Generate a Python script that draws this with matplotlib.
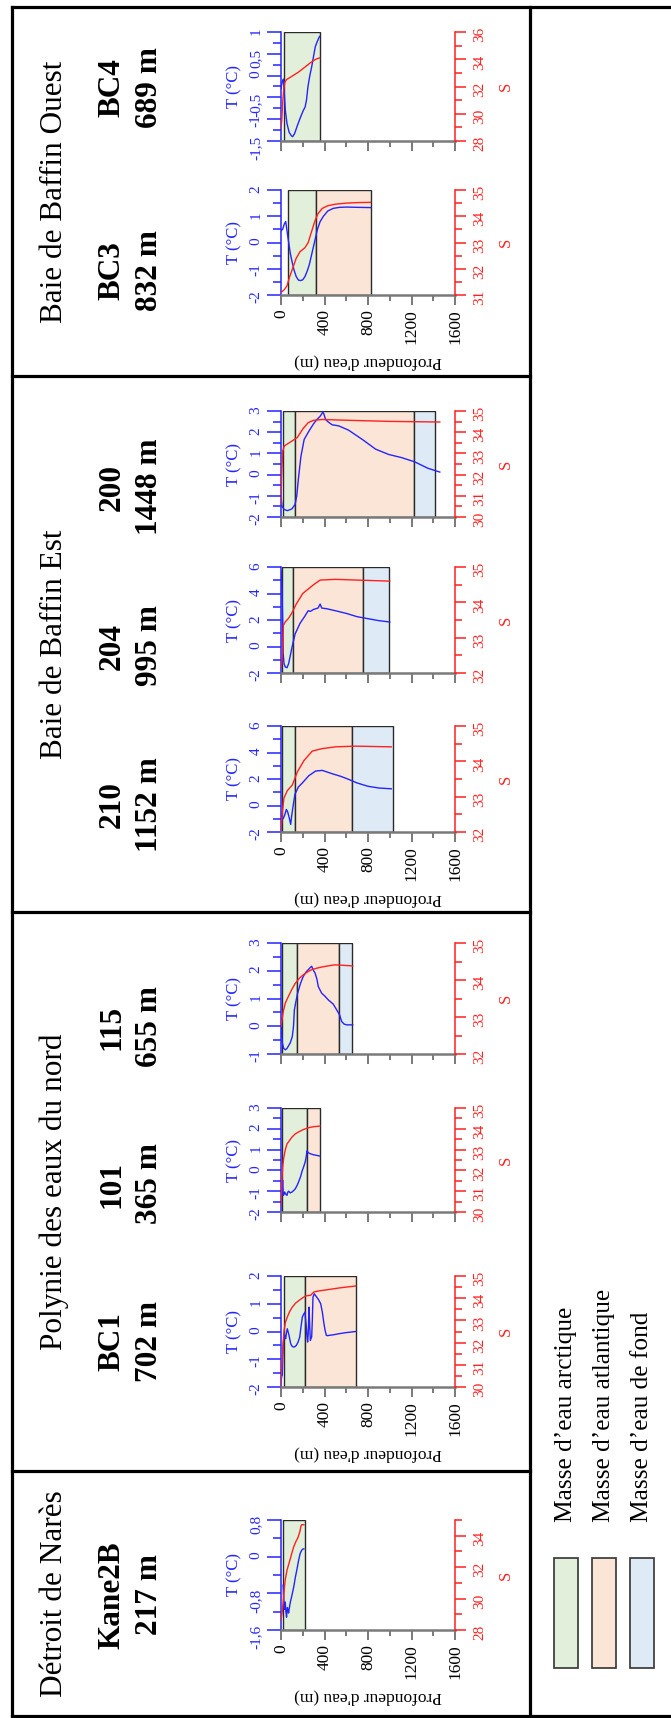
import matplotlib
matplotlib.use("Agg")
import matplotlib.pyplot as plt
from matplotlib.ticker import MultipleLocator, FuncFormatter
from matplotlib.patches import Rectangle

plt.rcParams['font.family'] = ['Liberation Serif', 'DejaVu Serif']
plt.rcParams['axes.unicode_minus'] = False

# ---------------- data ----------------
regions = ['Baie de Baffin Ouest', 'Baie de Baffin Est', 'Polynie des eaux du nord', 'Détroit de Narès']
stations = ['BC4', 'BC3', '200', '204', '210', '115', '101', 'BC1', 'Kane2B']
station_depths = ['689 m', '832 m', '1448 m', '995 m', '1152 m', '655 m', '365 m', '702 m', '217 m']

# temperature / salinity axis ranges and major tick steps
t_lims = [(-1.5, 1), (-2, 2), (-2, 3), (-2, 6), (-2, 6), (-1, 3), (-2, 3), (-2, 2), (-1.6, 0.8)]
t_steps = [0.5, 1, 1, 2, 2, 1, 1, 1, 0.8]
s_lims = [(28, 36), (31, 35), (30, 35), (32, 35), (32, 35), (32, 35), (30, 35), (30, 35), (28, 35)]
s_steps = [2, 1, 1, 1, 1, 1, 1, 1, 2]

# water mass limits (m): arctique, atlantique, de fond (in that order)
mass_bounds = [
    [30, 355],
    [61, 325, 825],
    [15, 130, 1225, 1420],
    [5, 113, 751, 996],
    [8, 129, 650, 1030],
    [5, 144, 533, 650],
    [5, 236, 359],
    [25, 221, 690],
    [20, 217],
]
mass_names = ['Masse d\u2019eau arctique', 'Masse d\u2019eau atlantique', 'Masse d\u2019eau de fond']

# profiles (depth m, T degC) and (depth m, S)
t_depth_bc4 = [0, 10, 21, 30, 40, 55, 75, 95, 107, 125, 150, 180, 205, 222, 235, 248, 265, 282, 300, 315, 330, 345, 355]
t_bc4 = [-0.3, -0.15, -0.08, -0.4, -0.8, -1.1, -1.3, -1.38, -1.4, -1.33, -1.15, -0.95, -0.8, -0.72, -0.55, -0.25, 0.0, 0.2, 0.45, 0.66, 0.76, 0.85, 0.9]
s_depth_bc4 = [0, 8, 15, 25, 35, 50, 80, 120, 160, 200, 240, 280, 320, 355]
s_bc4 = [28.9, 29.6, 30.8, 31.8, 32.3, 32.5, 32.65, 32.85, 33.05, 33.3, 33.55, 33.8, 34.0, 34.1]

t_depth_bc3 = [0, 15, 30, 43, 55, 67, 85, 100, 120, 140, 160, 180, 200, 220, 240, 260, 285, 310, 335, 360, 390, 430, 480, 540, 600, 700, 825]
t_bc3 = [0.45, 0.5, 0.7, 0.8, 0.45, 0.1, -0.4, -0.7, -1.05, -1.3, -1.43, -1.45, -1.42, -1.3, -1.1, -0.85, -0.4, 0.05, 0.5, 0.8, 1.0, 1.2, 1.3, 1.34, 1.35, 1.34, 1.33]
s_depth_bc3 = [0, 30, 55, 80, 110, 140, 175, 220, 250, 280, 310, 340, 380, 430, 500, 600, 700, 825]
s_bc3 = [31.1, 31.2, 31.35, 31.7, 32.05, 32.4, 32.65, 32.8, 33.0, 33.4, 33.8, 34.1, 34.3, 34.4, 34.46, 34.5, 34.52, 34.53]

t_depth_200 = [0, 10, 30, 60, 100, 130, 145, 160, 183, 213, 259, 300, 330, 360, 385, 395, 410, 430, 470, 530, 620, 750, 870, 990, 1110, 1230, 1350, 1460]
t_200 = [-1.0, -1.5, -1.65, -1.7, -1.62, -1.4, -1.0, -0.2, 0.85, 1.66, 2.07, 2.4, 2.6, 2.75, 2.95, 2.85, 2.6, 2.5, 2.35, 2.3, 2.1, 1.65, 1.2, 0.95, 0.8, 0.6, 0.3, 0.12]
s_depth_200 = [0, 5, 15, 30, 60, 100, 150, 200, 250, 300, 380, 500, 700, 1000, 1460]
s_200 = [30.6, 31.8, 33.1, 33.35, 33.45, 33.58, 33.75, 34.15, 34.45, 34.56, 34.6, 34.58, 34.55, 34.51, 34.48]

t_depth_204 = [0, 5, 10, 15, 20, 28, 40, 55, 70, 85, 100, 130, 175, 220, 250, 270, 300, 340, 360, 375, 420, 500, 600, 700, 800, 900, 1000]
t_204 = [5.7, 5.0, 3.9, 2.0, -0.5, -1.3, -1.55, -1.6, -1.3, -0.7, -0.1, 0.95, 1.75, 2.3, 2.7, 2.65, 2.8, 2.9, 3.2, 2.9, 2.85, 2.7, 2.5, 2.25, 2.1, 1.95, 1.85]
s_depth_204 = [0, 8, 14, 22, 40, 70, 100, 140, 200, 260, 300, 360, 500, 700, 1000]
s_204 = [32.15, 32.3, 32.6, 33.35, 33.45, 33.55, 33.7, 33.95, 34.25, 34.4, 34.5, 34.63, 34.65, 34.63, 34.6]

t_depth_210 = [0, 6, 20, 35, 49, 60, 75, 89, 98, 110, 128, 160, 195, 256, 318, 380, 470, 550, 623, 700, 800, 900, 1014]
t_210 = [-0.6, -0.9, -1.0, -0.7, -0.3, -0.45, -0.9, -1.43, -0.8, -0.1, 0.84, 1.4, 1.69, 2.25, 2.6, 2.65, 2.4, 2.2, 1.97, 1.7, 1.45, 1.32, 1.26]
s_depth_210 = [0, 6, 12, 27, 58, 104, 150, 211, 287, 379, 500, 684, 1014]
s_210 = [32.05, 32.3, 32.55, 32.96, 33.17, 33.33, 33.7, 34.02, 34.29, 34.36, 34.41, 34.43, 34.41]

t_depth_115 = [0, 5, 12, 25, 40, 55, 70, 85, 104, 115, 123, 140, 153, 180, 205, 230, 251, 270, 282, 300, 313, 330, 343, 374, 400, 435, 480, 512, 540, 558, 580, 604, 659]
t_115 = [0.3, -0.2, -0.6, -0.8, -0.85, -0.8, -0.7, -0.6, -0.37, 0.0, 0.59, 0.95, 1.19, 1.55, 1.8, 1.95, 2.04, 2.12, 2.16, 2.0, 1.92, 1.7, 1.43, 1.19, 1.1, 0.95, 0.8, 0.59, 0.4, 0.17, 0.08, 0.05, 0.05]
s_depth_115 = [0, 10, 21, 40, 67, 100, 129, 170, 205, 250, 282, 330, 374, 450, 497, 560, 659]
s_115 = [32.74, 32.95, 33.15, 33.38, 33.55, 33.75, 33.9, 34.05, 34.14, 34.23, 34.28, 34.32, 34.35, 34.39, 34.41, 34.4, 34.38]

t_depth_101 = [0, 10, 15, 21, 28, 34, 45, 55, 62, 70, 85, 101, 120, 132, 150, 162, 180, 193, 210, 224, 233, 239, 245, 250, 270, 300, 330, 356]
t_101 = [-1.3, -0.9, -0.47, -1.2, -1.15, -1.04, -1.15, -1.2, -1.05, -1.0, -1.08, -1.04, -0.95, -0.88, -0.7, -0.55, -0.3, -0.05, 0.2, 0.44, 0.7, 0.94, 0.9, 0.85, 0.8, 0.75, 0.72, 0.69]
s_depth_101 = [0, 5, 9, 15, 25, 40, 55, 80, 101, 130, 162, 200, 224, 260, 300, 356]
s_101 = [30.3, 30.9, 31.62, 32.15, 32.6, 33.0, 33.27, 33.45, 33.6, 33.75, 33.85, 33.95, 34.0, 34.06, 34.1, 34.13]

t_depth_bc1 = [0, 8, 12, 18, 21, 26, 31, 37, 43, 50, 58, 66, 74, 82, 89, 100, 113, 127, 141, 157, 172, 185, 196, 208, 221, 227, 233, 239, 245, 250, 258, 264, 270, 276, 282, 288, 294, 300, 306, 317, 328, 345, 365, 380, 395, 405, 417, 430, 441, 480, 533, 600, 686]
t_bc1 = [-1.8, -1.6, -1.58, -0.8, -0.44, -0.2, -0.08, -0.2, -0.26, -0.05, 0.1, -0.02, -0.14, -0.3, -0.44, -0.52, -0.56, -0.55, -0.5, -0.38, -0.2, 0.2, 0.52, 0.62, 0.7, 0.4, 0.16, -0.2, -0.38, -0.1, 0.88, 0.2, -0.32, -0.25, -0.2, 0.4, 1.24, 1.3, 1.36, 1.3, 1.24, 1.15, 1.0, 0.7, 0.28, 0.05, -0.14, -0.15, -0.14, -0.12, -0.08, -0.04, 0.0]
s_depth_bc1 = [0, 3, 8, 12, 20, 28, 40, 58, 80, 104, 135, 166, 200, 227, 250, 273, 290, 303, 340, 380, 450, 533, 600, 686]
s_bc1 = [30.0, 30.6, 31.0, 31.35, 32.0, 32.55, 32.9, 33.15, 33.4, 33.6, 33.78, 33.9, 34.02, 34.1, 34.12, 34.13, 34.22, 34.28, 34.32, 34.35, 34.4, 34.46, 34.5, 34.55]

t_depth_kane = [20, 25, 31, 35, 39, 45, 51, 55, 59, 65, 70, 78, 86, 100, 117, 132, 148, 162, 176, 190, 203, 210]
t_kane = [-0.62, -0.9, -1.15, -1.05, -0.99, -1.2, -1.32, -1.2, -1.11, -1.18, -1.23, -1.1, -0.99, -0.85, -0.66, -0.45, -0.26, -0.08, 0.07, 0.14, 0.17, 0.17]
s_depth_kane = [0, 10, 20, 30, 39, 55, 78, 100, 117, 135, 156, 175, 183, 190, 210]
s_kane = [28.6, 29.1, 29.76, 30.6, 31.2, 31.8, 32.35, 32.9, 33.3, 33.6, 33.88, 34.3, 34.6, 34.7, 34.7]

t_profiles = [(t_depth_bc4, t_bc4), (t_depth_bc3, t_bc3), (t_depth_200, t_200), (t_depth_204, t_204),
              (t_depth_210, t_210), (t_depth_115, t_115), (t_depth_101, t_101), (t_depth_bc1, t_bc1),
              (t_depth_kane, t_kane)]
s_profiles = [(s_depth_bc4, s_bc4), (s_depth_bc3, s_bc3), (s_depth_200, s_200), (s_depth_204, s_204),
              (s_depth_210, s_210), (s_depth_115, s_115), (s_depth_101, s_101), (s_depth_bc1, s_bc1),
              (s_depth_kane, s_kane)]

# ---------------- layout (pixels in the 671 x 1718 image) ----------------
W, H = 671, 1718
AX_X0, AX_X1 = 281, 455
ax_rows = [(32, 141), (190, 295), (411, 517), (567, 673), (726, 832),
           (943, 1054), (1108, 1212), (1276, 1387), (1520, 1630)]
label_rows = [88, 271, 487, 646, 805, 1027, 1184, 1342, 1595]
show_depth_labels = [False, True, False, False, True, False, False, True, True]
region_rows = [(7, 376), (376, 912), (912, 1471), (1471, 1716)]

BLUE = '#2424ff'
RED = '#ff2020'
GREY = '#7a7a7a'
mass_colors = ['#e2efda', '#fbe5d6', '#deebf7']


def t_fmt(v, pos):
    if abs(v) < 1e-9:
        v = 0.0
    return ('%g' % round(v, 3)).replace('.', ',')


fig = plt.figure(figsize=(W / 100, H / 100), dpi=100)

bg = fig.add_axes([0, 0, 1, 1], zorder=-1)
bg.set_xlim(0, W)
bg.set_ylim(H, 0)
bg.axis('off')

# frame
lw_frame = 2.3
bg.plot([12, W], [7, 7], color='k', lw=lw_frame, solid_capstyle='projecting')
bg.plot([12, W], [1716, 1716], color='k', lw=lw_frame, solid_capstyle='projecting')
bg.plot([12, 12], [7, 1716], color='k', lw=lw_frame, solid_capstyle='projecting')
bg.plot([530, 530], [7, 1716], color='k', lw=lw_frame, solid_capstyle='projecting')
for top, bottom in region_rows[:-1]:
    bg.plot([12, 530], [bottom, bottom], color='k', lw=lw_frame, solid_capstyle='projecting')

# region titles
for name, (top, bottom) in zip(regions, region_rows):
    bg.text(62, (top + bottom) / 2, name, rotation=90, rotation_mode='anchor',
            ha='center', va='baseline', fontsize=22.5)

for i, st in enumerate(stations):
    top, bottom = ax_rows[i]
    yc = (top + bottom) / 2

    # station header
    bg.text(120, label_rows[i], st, rotation=90, rotation_mode='anchor',
            ha='center', va='baseline', fontsize=22.5, fontweight='bold')
    bg.text(157, label_rows[i], station_depths[i], rotation=90, rotation_mode='anchor',
            ha='center', va='baseline', fontsize=22.5, fontweight='bold')

    ax = fig.add_axes([AX_X0 / W, 1 - bottom / H, (AX_X1 - AX_X0) / W, (bottom - top) / H])
    ax.set_facecolor('none')
    ax2 = ax.twinx()

    # water masses
    b = mass_bounds[i]
    for k in range(len(b) - 1):
        ax.axvspan(b[k], b[k + 1], facecolor=mass_colors[k], edgecolor='#2a2a2a', lw=1.0, zorder=1)

    ax.plot(t_profiles[i][0], t_profiles[i][1], color=BLUE, lw=1.0, zorder=3)
    ax2.plot(s_profiles[i][0], s_profiles[i][1], color=RED, lw=1.0, zorder=3)

    ax.set_xlim(0, 1600)
    ax.set_ylim(*t_lims[i])
    ax2.set_ylim(*s_lims[i])

    # depth axis
    ax.xaxis.set_major_locator(MultipleLocator(400))
    ax.xaxis.set_minor_locator(MultipleLocator(200))
    ax.tick_params(axis='x', which='major', length=7, width=1.1, color='#555555',
                   labelsize=12.5, labelrotation=90, pad=3, labelbottom=show_depth_labels[i])
    ax.tick_params(axis='x', which='minor', length=4.5, width=1.1, color='#555555')

    # temperature axis
    ax.yaxis.set_major_locator(MultipleLocator(t_steps[i]))
    ax.yaxis.set_minor_locator(MultipleLocator(t_steps[i] / 2))
    ax.yaxis.set_major_formatter(FuncFormatter(t_fmt))
    ax.tick_params(axis='y', which='major', length=10, width=1.1, color=BLUE,
                   labelcolor=BLUE, labelsize=11, labelrotation=90, pad=3.5)
    ax.tick_params(axis='y', which='minor', length=5.5, width=1.1, color=BLUE)

    # salinity axis
    ax2.yaxis.set_major_locator(MultipleLocator(s_steps[i]))
    ax2.yaxis.set_minor_locator(MultipleLocator(s_steps[i] / 2))
    ax2.yaxis.set_major_formatter(FuncFormatter(lambda v, p: '%g' % v))
    ax2.tick_params(axis='y', which='major', length=8, width=1.1, color=RED,
                    labelcolor=RED, labelsize=11, labelrotation=90, pad=5)
    ax2.tick_params(axis='y', which='minor', length=5, width=1.1, color=RED)

    for sp in ['top', 'right']:
        ax.spines[sp].set_visible(False)
    ax.spines['left'].set_color(BLUE)
    ax.spines['left'].set_linewidth(1.1)
    ax.spines['bottom'].set_color(GREY)
    ax.spines['bottom'].set_linewidth(1.8)
    for sp in ['top', 'left', 'bottom']:
        ax2.spines[sp].set_visible(False)
    ax2.spines['right'].set_color(RED)
    ax2.spines['right'].set_linewidth(1.1)

    # axis titles
    bg.text(238, yc, 'T (°C)', rotation=90, rotation_mode='anchor', ha='center',
            va='baseline', color=BLUE, fontsize=12)
    bg.text(510, yc, 'S', rotation=90, rotation_mode='anchor', ha='center',
            va='baseline', color=RED, fontsize=12)
    if show_depth_labels[i]:
        bg.text((AX_X0 + AX_X1) / 2, bottom + 67, "Profondeur d'eau (m)", rotation=180,
                ha='center', va='center', fontsize=12.5)

# legend
leg_x = [554, 592, 630]
for k, name in enumerate(mass_names):
    bg.add_patch(Rectangle((leg_x[k], 1558), 24, 110, facecolor=mass_colors[k],
                           edgecolor='#333333', lw=1.2))
    bg.text(leg_x[k] + 12, 1522, name, rotation=90, ha='center', va='bottom', fontsize=18.3)

fig.savefig('out.png', dpi=100)
